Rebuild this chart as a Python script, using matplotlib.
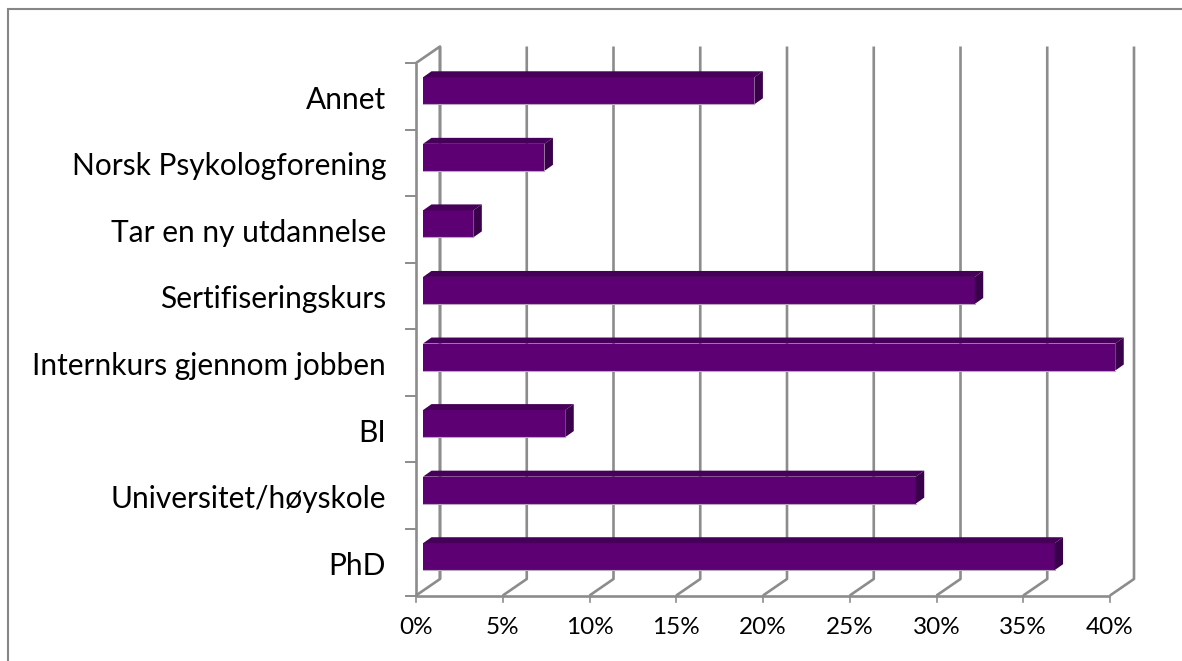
# Stolpediagram med 3D-utseende, tegnet i vanlige akser
import matplotlib
matplotlib.use("Agg")
import matplotlib.pyplot as plt
from matplotlib.patches import Polygon, Rectangle

categories = ["PhD", "Universitet/høyskole", "BI", "Internkurs gjennom jobben",
              "Sertifiseringskurs", "Tar en ny utdannelse", "Norsk Psykologforening", "Annet"]
values = [36.4, 28.4, 8.2, 39.9, 31.8, 2.9, 7.0, 19.1]
xticks = [0, 5, 10, 15, 20, 25, 30, 35, 40]

W, H = 1182, 661
x0, x1 = 416, 1110     # 0% og 40% i piksler
y0, y1 = 595.5, 63     # bunn og topp av aksen

GREY = "#8c8c8c"
FRONT = "#5c0074"
TOP = "#47005a"
SIDE = "#3b004b"

plt.rcParams["font.family"] = ["Lato", "DejaVu Sans"]

fig = plt.figure(figsize=(W / 100, H / 100), dpi=100)
ax = fig.add_axes([x0 / W, 1 - y0 / H, (x1 - x0) / W, (y0 - y1) / H])
ax.set_xlim(0, 40)
ax.set_ylim(0, len(categories))
ax.axis("off")

# px -> dataenheter
px = 40 / (x1 - x0)
py = len(categories) / (y0 - y1)

# dybde på veggen og på stolpene
wall_dx, wall_dy = 24 * px, 16.5 * py
bar_dx, bar_dy = 8.5 * px, 6 * py
start = 7 * px
bar_h = 27 * py
shift = 5.5 * py

line = dict(color=GREY, lw=1.9, clip_on=False, solid_capstyle="butt", zorder=1)

# gulv og vegger
ax.plot([0, 40], [0, 0], **line)
ax.plot([0, 0], [0, len(categories)], **line)
ax.plot([0, wall_dx, wall_dx], [len(categories), len(categories) + wall_dy, wall_dy], **line)
for t in xticks:
    ax.plot([t, t + wall_dx, t + wall_dx], [0, wall_dy, len(categories) + wall_dy], **line)
    ax.plot([t, t], [0, -6 * py], color=GREY, lw=1.2, clip_on=False)
    ax.text(t, -32.5 * py, "%d%%" % t, ha="center", va="center", fontsize=17.5, color="black")

for i in range(len(categories) + 1):
    ax.plot([-10 * px, 0], [i, i], color=GREY, lw=1.4, clip_on=False)

# stolper
for i, (name, v) in enumerate(zip(categories, values)):
    b = i + 0.5 + shift - bar_h / 2
    t = b + bar_h
    e = start + v
    ax.barh(b, v, height=bar_h, left=start, align="edge", color=FRONT,
            edgecolor="none", zorder=3, clip_on=False)
    ax.add_patch(Polygon([(start, t), (start + bar_dx, t + bar_dy), (e + bar_dx, t + bar_dy), (e, t)],
                         facecolor=TOP, edgecolor="none", zorder=3, clip_on=False))
    ax.add_patch(Polygon([(e, t), (e + bar_dx, t + bar_dy), (e + bar_dx, b + bar_dy), (e, b)],
                         facecolor=SIDE, edgecolor="none", zorder=3, clip_on=False))
    ax.plot([start, e], [b, b], color="#b9a9bd", lw=0.8, zorder=4, clip_on=False)
    ax.text(-30 * px, i + 0.5 - 3.5 * py, name, ha="right", va="center", fontsize=21.5, color="black")

# ramme rundt diagrammet (bare topp og venstre er synlig)
fig.add_artist(Rectangle((7.5 / W, -0.1), 1.2, 1.1 - 9 / H, transform=fig.transFigure,
                         facecolor="none", edgecolor="#868686", lw=1.5))

fig.savefig("out.png", dpi=100)
